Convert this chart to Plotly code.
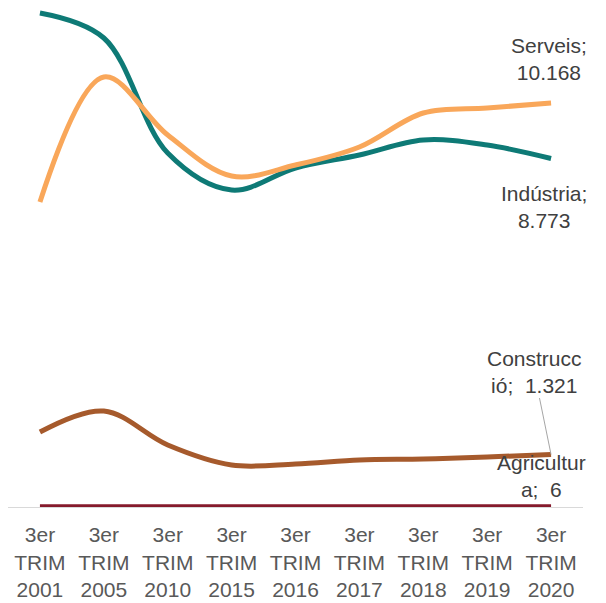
import plotly.graph_objects as go

categories = ["3er<br>TRIM<br>2001", "3er<br>TRIM<br>2005", "3er<br>TRIM<br>2010",
              "3er<br>TRIM<br>2015", "3er<br>TRIM<br>2016", "3er<br>TRIM<br>2017",
              "3er<br>TRIM<br>2018", "3er<br>TRIM<br>2019", "3er<br>TRIM<br>2020"]

industria = [12434, 11805, 8910, 7979, 8533, 8860, 9237, 9112, 8773]
serveis = [7677, 10823, 9363, 8331, 8608, 9061, 9917, 10043, 10168]
construccio = [1888, 2416, 1561, 1057, 1082, 1183, 1208, 1259, 1321]
agricultura = [9, 8, 7, 6, 6, 6, 6, 6, 6]

series = [
    ("Agricultura", agricultura, "#851a2c"),
    ("Construcció", construccio, "#a65a2c"),
    ("Indústria", industria, "#0e7a76"),
    ("Serveis", serveis, "#f9a75a"),
]

fig = go.Figure()
for name, vals, col in series:
    fig.add_trace(go.Scatter(
        x=categories, y=vals, name=name, mode="lines",
        line=dict(color=col, width=5, shape="spline", smoothing=1.0),
        cliponaxis=False, showlegend=False, hoverinfo="skip"))

font_family = "Liberation Sans, Arial, sans-serif"
ann_font = dict(family=font_family, size=21, color="#404040")

fig.add_annotation(x=categories[-1], y=serveis[-1], text="Serveis;<br>10.168",
                   showarrow=False, xshift=-2, yshift=44, font=ann_font, align="center")
fig.add_annotation(x=categories[-1], y=industria[-1], text="Indústria;<br>8.773",
                   showarrow=False, xshift=-7, yshift=-49, font=ann_font, align="center")
fig.add_annotation(x=categories[-1], y=construccio[-1], text="Construcc<br>ió;\u00a0 1.321",
                   showarrow=True, arrowhead=0, arrowwidth=1, arrowcolor="#a6a6a6",
                   ax=-17, ay=-83, font=ann_font, align="center")
fig.add_annotation(x=categories[-1], y=agricultura[-1], text="Agricultur<br>a;\u00a0 6",
                   showarrow=False, xshift=-10, yshift=31, font=ann_font, align="center")

fig.update_layout(
    width=598, height=595,
    margin=dict(l=0, r=23, t=0, b=96),
    paper_bgcolor="white", plot_bgcolor="white",
    xaxis=dict(type="category", range=[-0.5, 8.5], showgrid=False, zeroline=False,
               showline=True, linecolor="#d9d9d9", linewidth=1,
               ticks="", tickfont=dict(family=font_family, size=21, color="#595959"),
               ticklabelstandoff=9),
    yaxis=dict(range=[0, 12560], showgrid=False, zeroline=False, showline=False,
               showticklabels=False, ticks=""),
)

fig.write_html("out.html")
